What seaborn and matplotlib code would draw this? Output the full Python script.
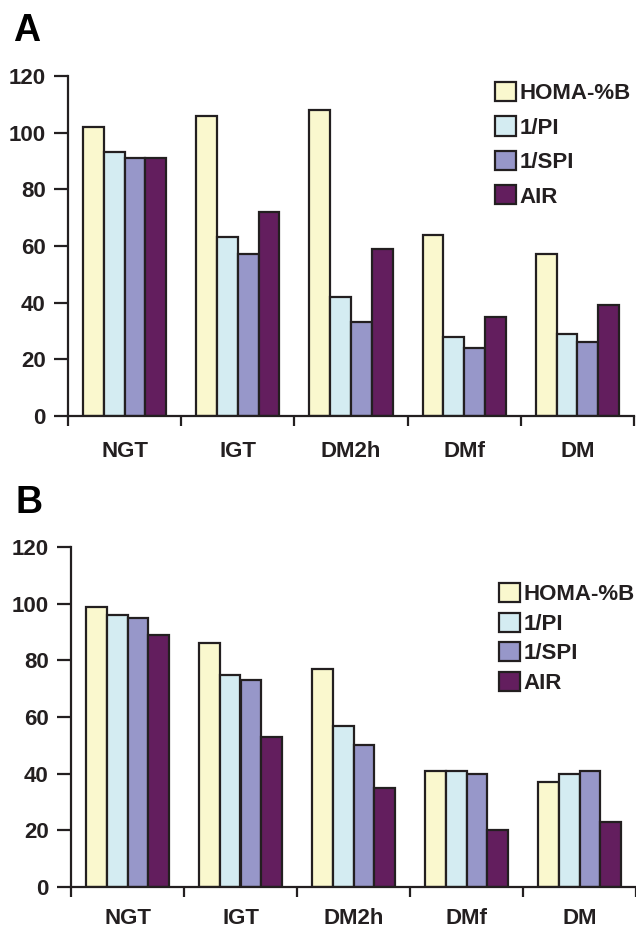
import seaborn as sns
import pandas as pd
import matplotlib.pyplot as plt

groups = ['NGT', 'IGT', 'DM2h', 'DMf', 'DM']
indices = ['HOMA-%B', '1/PI', '1/SPI', 'AIR']
colors = ['#FAF8CE', '#D4ECF2', '#9797C9', '#631E5E']

# panel A
a_homa = [102, 106, 108, 64, 57]
a_pi = [93, 63, 42, 28, 29]
a_spi = [91, 57, 33, 24, 26]
a_air = [91, 72, 59, 35, 39]

# panel B
b_homa = [99, 86, 77, 41, 37]
b_pi = [96, 75, 57, 41, 40]
b_spi = [95, 73, 50, 40, 41]
b_air = [89, 53, 35, 20, 23]


def to_long(*series):
    rows = []
    for name, vals in zip(indices, series):
        for g, v in zip(groups, vals):
            rows.append({'group': g, 'index': name, 'value': v})
    return pd.DataFrame(rows)


df_a = to_long(a_homa, a_pi, a_spi, a_air)
df_b = to_long(b_homa, b_pi, b_spi, b_air)

sns.set_style('white')
plt.rcParams['font.family'] = ['Liberation Sans', 'DejaVu Sans']
plt.rcParams['font.weight'] = 'bold'
ink = '#231F20'
fs = 16

fig = plt.figure(figsize=(6.36, 9.30), dpi=100)
ax_a = fig.add_axes([68 / 636, 1 - 416 / 930, 566 / 636, 340 / 930])
ax_b = fig.add_axes([71 / 636, 1 - 887 / 930, 565 / 636, 340 / 930])

setups = [
    (ax_a, df_a, 'A', (13, 41), (495, 82), 0.55, 18),
    (ax_b, df_b, 'B', (15, 513), (499, 583), 0.33, 15),
]

for ax, df, letter, lpos, legpos, lspace, xpad in setups:
    sns.barplot(data=df, x='group', y='value', hue='index', order=groups,
                hue_order=indices, palette=colors, width=0.735, saturation=1,
                errorbar=None, edgecolor=ink, linewidth=1.6, ax=ax)
    ax.set_xlim(-0.5, 4.5)
    ax.set_ylim(0, 120)
    ax.set_yticks(range(0, 121, 20))
    ax.set_yticklabels([str(v) for v in range(0, 121, 20)],
                       fontsize=fs, fontweight='bold', color=ink)
    ax.set_xticks([i - 0.5 for i in range(6)])
    ax.set_xticklabels([])
    ax.set_xticks(range(5), minor=True)
    ax.set_xticklabels(groups, minor=True, fontsize=fs, fontweight='bold', color=ink)
    ax.tick_params(axis='x', which='major', bottom=True, direction='out',
                   length=7, width=1.6, color=ink)
    ax.tick_params(axis='x', which='minor', bottom=True, length=0, pad=xpad)
    ax.tick_params(axis='y', left=True, direction='out', length=10, width=1.6,
                   color=ink, pad=6)
    ax.set_xlabel('')
    ax.set_ylabel('')
    sns.despine(ax=ax)
    for s in ['left', 'bottom']:
        ax.spines[s].set_linewidth(1.6)
        ax.spines[s].set_color(ink)

    leg = ax.legend(loc='upper left',
                    bbox_to_anchor=(legpos[0] / 636, 1 - legpos[1] / 930),
                    bbox_transform=fig.transFigure, frameon=False,
                    borderpad=0, borderaxespad=0, handlelength=0.95,
                    handleheight=0.95, handletextpad=0.15,
                    labelspacing=lspace,
                    prop={'size': fs, 'weight': 'bold'})
    for t in leg.get_texts():
        t.set_color(ink)
    for h in leg.legend_handles:
        h.set_edgecolor(ink)
        h.set_linewidth(1.6)

    fig.text(lpos[0] / 636, 1 - lpos[1] / 930, letter, fontsize=27,
             fontweight='bold', color='black', ha='left', va='baseline')

fig.savefig('out.png', dpi=100)
